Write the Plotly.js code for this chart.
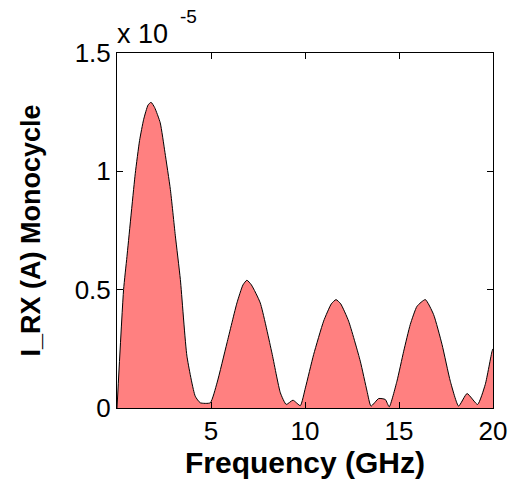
<!DOCTYPE html>
<html>
<head>
<meta charset="utf-8">
<script src="https://cdn.plot.ly/plotly-3.0.1.min.js"></script>
<style>html,body{margin:0;padding:0;background:#fff;}</style>
</head>
<body>
<div id="chart" style="width:512px;height:482px;"></div>
<script>
// Frequency (GHz)
var freq = [0, 0.35, 0.53, 0.97, 1.2, 1.42, 1.65, 1.81, 2.0, 2.3, 2.55, 2.84, 3.1, 3.37, 3.72, 4.16, 4.43, 4.96,
  5.32, 5.85, 6.38, 6.7, 6.91, 7.15, 7.62, 8.24, 8.69, 9.0, 9.36, 9.75,
  10.02, 10.46, 10.99, 11.4, 11.65, 11.9, 12.32, 12.94, 13.3, 13.51, 13.92, 14.27, 14.48,
  14.89, 15.25, 15.6, 15.96, 16.4, 16.84, 17.29, 17.73, 18.17, 18.62, 19.18, 19.59, 19.95, 20];
// I_RX magnitude (x 1e-5 A)
var current = [0, 0.50, 0.64, 0.99, 1.13, 1.22, 1.28, 1.292, 1.27, 1.205, 1.08, 0.923, 0.73, 0.543, 0.219, 0.05, 0.022, 0.022,
  0.106, 0.275, 0.444, 0.52, 0.54, 0.52, 0.444, 0.233, 0.064, 0.015, 0.033, 0.01,
  0.085, 0.226, 0.367, 0.44, 0.458, 0.44, 0.367, 0.198, 0.071, 0.008, 0.04, 0.036, 0.005,
  0.113, 0.24, 0.353, 0.43, 0.458, 0.395, 0.268, 0.113, 0.008, 0.061, 0.015, 0.1, 0.24, 0.25];
var xTicks = [5, 10, 15, 20];
var yTicks = [0, 0.5, 1, 1.5];
var yTickText = ['0', '0.5', '1', '1.5'];

var trace = {
  x: freq, y: current, type: 'scatter', mode: 'lines',
  fill: 'tozeroy', fillcolor: 'rgb(255,128,128)',
  line: {color: '#000', width: 1, shape: 'spline', smoothing: 0.5}, hoverinfo: 'skip'
};
var tickFont = {family: 'Liberation Sans, Arial, sans-serif', size: 26, color: '#000'};
var layout = {
  width: 512, height: 482,
  margin: {l: 117, r: 19, t: 53, b: 74},
  paper_bgcolor: '#fff', plot_bgcolor: '#fff',
  showlegend: false,
  xaxis: {
    range: [0, 20], tickmode: 'array', tickvals: xTicks, ticktext: xTicks.map(String),
    ticks: 'inside', ticklen: 6, tickcolor: '#000', tickwidth: 1,
    showline: true, linecolor: '#000', linewidth: 1, mirror: 'ticks',
    showgrid: false, zeroline: false, tickfont: tickFont,
    title: {text: '<b>Frequency (GHz)</b>', font: {family: 'Liberation Sans, Arial, sans-serif', size: 30, color: '#000'}, standoff: 2}
  },
  yaxis: {
    range: [0, 1.5], tickmode: 'array', tickvals: yTicks, ticktext: yTickText,
    ticks: 'inside', ticklen: 6, tickcolor: '#000', tickwidth: 1,
    showline: true, linecolor: '#000', linewidth: 1, mirror: 'ticks',
    showgrid: false, zeroline: false, tickfont: tickFont,
    title: {text: '<b>I_RX (A) Monocycle</b>', font: {family: 'Liberation Sans, Arial, sans-serif', size: 27, color: '#000'}, standoff: 26}
  },
  annotations: [
    {xref: 'paper', yref: 'paper', x: 0, y: 1, xanchor: 'left', yanchor: 'bottom', yshift: 2, xshift: -2,
     text: 'x 10', showarrow: false, font: {family: 'Liberation Sans, Arial, sans-serif', size: 27, color: '#000'}},
    {xref: 'paper', yref: 'paper', x: 0, y: 1, xanchor: 'left', yanchor: 'bottom', yshift: 24, xshift: 61,
     text: '-5', showarrow: false, font: {family: 'Liberation Sans, Arial, sans-serif', size: 19, color: '#000'}}
  ]
};
Plotly.newPlot('chart', [trace], layout, {displayModeBar: false, staticPlot: true});
</script>
</body>
</html>
